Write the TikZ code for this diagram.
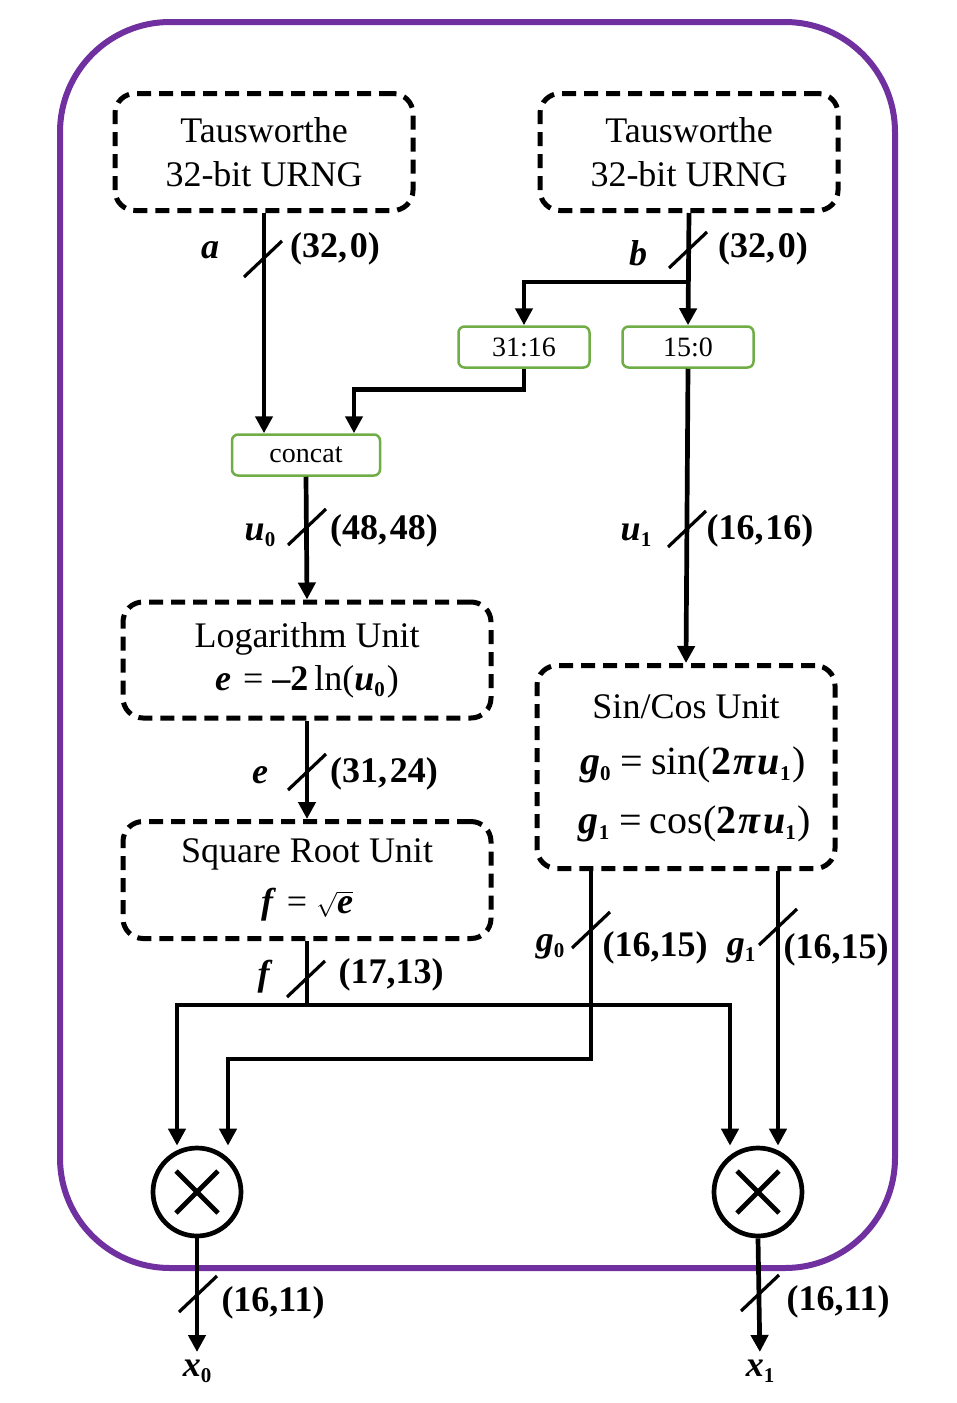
\documentclass[tikz,border=0pt]{standalone}
\usepackage{fontspec}
\setmainfont{Liberation Serif}
\usetikzlibrary{arrows.meta,calc}
\definecolor{purp}{HTML}{7030A0}
\definecolor{gbrd}{HTML}{70AD47}
\newcommand\subs[1]{\raisebox{-6pt}{\fontsize{21}{21}\selectfont #1}}
\newcommand\bi[1]{\textbf{\textit{#1}}}
\newcommand\bmark[2]{\draw[line width=3.2pt] ({#1-19},{#2+18}) -- ({#1+19},{#2-18});}
\begin{document}
\begin{tikzpicture}[x=1pt,y=-1pt,
  conn/.style={line width=4.7pt},
  arr/.style={conn,-{Triangle[width=17pt,length=17pt]}},
  unitbox/.style={draw,line width=5pt,dash pattern=on 14pt off 8pt,rounded corners=20pt,align=center,inner sep=0pt,font=\fontsize{36}{44}\selectfont},
  gbox/.style={draw=gbrd,line width=2.5pt,rounded corners=6pt,minimum width=131pt,minimum height=41pt,inner sep=0pt,font=\fontsize{28}{30}\selectfont},
  txt/.style={inner sep=0pt,font=\fontsize{36}{40}\selectfont},
  lbl/.style={inner sep=0pt,font=\fontsize{36}{40}\selectfont\bfseries},
  mult/.style={circle,draw,line width=4.7pt,minimum size=88pt,inner sep=0pt}
]
\useasboundingbox (0,0) rectangle (957,1403);
% outer frame
\draw[line width=6pt,draw=purp,rounded corners=110pt] (60,22) rectangle (895,1268);

% boxes
\node[unitbox,minimum width=298pt,minimum height=117pt] (t1) at (264,152) {Tausworthe\\32-bit URNG};
\node[unitbox,minimum width=298pt,minimum height=117pt] (t2) at (689,152) {Tausworthe\\32-bit URNG};
\node[gbox] (b31) at (524,347) {31:16};
\node[gbox] (b15) at (688,347) {15:0};
\node[gbox,minimum width=148pt] (concat) at (306,455) {concat};
\node[unitbox,minimum width=368pt,minimum height=116pt] (log) at (307,660) {Logarithm Unit\\[-1pt]\bi{e}\hspace{3pt} = \textbf{\textendash2}\,ln(\bi{u}\subs{\textbf{0}}\hspace{2pt})};
\node[unitbox,minimum width=368pt,minimum height=117pt] (sqrt) at (307,880) {Square Root Unit\\[7pt]\bi{f}\hspace{2pt} = $\sqrt{\hbox{\bi{e}}}$};
\node[unitbox,minimum width=298pt,minimum height=203pt] (sc) at (686,767) {};
\node[txt] (sct) at (686,707) {Sin/Cos Unit};
\node[txt,font=\fontsize{40}{42}\selectfont] (scg0) at (693,765) {\bi{g}\subs{\textbf{0}}\hspace{10pt}=\hspace{8pt}sin(\textbf{2}\hspace{2pt}\bi{π}\hspace{2pt}\bi{u}\subs{\textbf{1}}\hspace{2pt})};
\node[txt,font=\fontsize{40}{42}\selectfont] (scg1) at (695,824) {\bi{g}\subs{\textbf{1}}\hspace{10pt}=\hspace{8pt}cos(\textbf{2}\hspace{2pt}\bi{π}\hspace{2pt}\bi{u}\subs{\textbf{1}}\hspace{2pt})};
\node[mult] (m0) at (197,1192) {};
\node[mult] (m1) at (758,1192) {};
\foreach \m in {m0,m1}{
  \draw[line width=4.7pt] ($(\m)+(-21,-21)$) -- ($(\m)+(21,21)$);
  \draw[line width=4.7pt] ($(\m)+(-21,21)$) -- ($(\m)+(21,-21)$);
}
\node[lbl,anchor=north] (x0) at (197,1360) {\bi{x}\subs{0}};
\node[lbl,anchor=north] (x1) at (760,1360) {\bi{x}\subs{1}};

% connectors
\coordinate (bj) at (689,282);
\coordinate (fj) at (307,1005);
\coordinate (g0t) at (591,1059);
\draw[arr] (t1.south) -- (t1.south |- concat.north);
\draw[arr] (t2.south) -- (b15.north);
\draw[arr] (bj) -| (b31.north);
\draw[arr] (b31.south) -- ++(0,21) -| ([xshift=48pt]concat.north);
\draw[arr] (concat.south) -- (log.north);
\draw[arr] (b15.south) -- (sc.north);
\draw[arr] (log.south) -- (sqrt.north);
\draw[conn] (sqrt.south) -- (fj);
\draw[arr] (fj) -| ([xshift=-20pt]m0.north);
\draw[arr] (fj) -| ([xshift=-28pt]m1.north);
\draw[arr] ([xshift=-95pt]sc.south) -- (g0t) -| ([xshift=31pt]m0.north);
\draw[arr] ([xshift=92pt]sc.south) -- ([xshift=20pt]m1.north);
\draw[arr,shorten >=8pt] (m0.south) -- (x0.north);
\draw[arr,shorten >=8pt] (m1.south) -- (x1.north);

% bus marks
\bmark{263}{259}
\bmark{688}{250}
\bmark{307}{527}
\bmark{687}{529}
\bmark{307}{772}
\bmark{306}{979}
\bmark{591}{930}
\bmark{778}{927}
\bmark{198}{1294}
\bmark{760}{1293}

% labels
\node[lbl] (la) at (210,250) {\bi{a}};
\node[lbl] (la2) at (335,249) {(32,\kern3pt0)};
\node[lbl] (lb) at (638,253) {\bi{b}};
\node[lbl] (lb2) at (763,249) {(32,\kern3pt0)};
\node[lbl] (lu0) at (260,535) {\bi{u}\subs{0}};
\node[lbl] (lu02) at (384,531) {(48,\kern3pt48)};
\node[lbl] (lu1) at (636,535) {\bi{u}\subs{1}};
\node[lbl] (lu12) at (760,531) {(16,\kern2pt16)};
\node[lbl] (le) at (260,775) {\bi{e}};
\node[lbl] (le2) at (384,774) {(31,\kern3pt24)};
\node[lbl] (lf) at (265,977) {\bi{f}};
\node[lbl] (lf2) at (391,975) {(17,13)};
\node[lbl] (lg0) at (550,947) {\bi{g}\subs{0}};
\node[lbl] (lg02) at (655,948) {(16,15)};
\node[lbl] (lg1) at (741,951) {\bi{g}\subs{1}};
\node[lbl] (lg12) at (836,950) {(16,15)};
\node[lbl] (lo0) at (273,1303) {(16,11)};
\node[lbl] (lo1) at (838,1302) {(16,11)};
\end{tikzpicture}
\end{document}
